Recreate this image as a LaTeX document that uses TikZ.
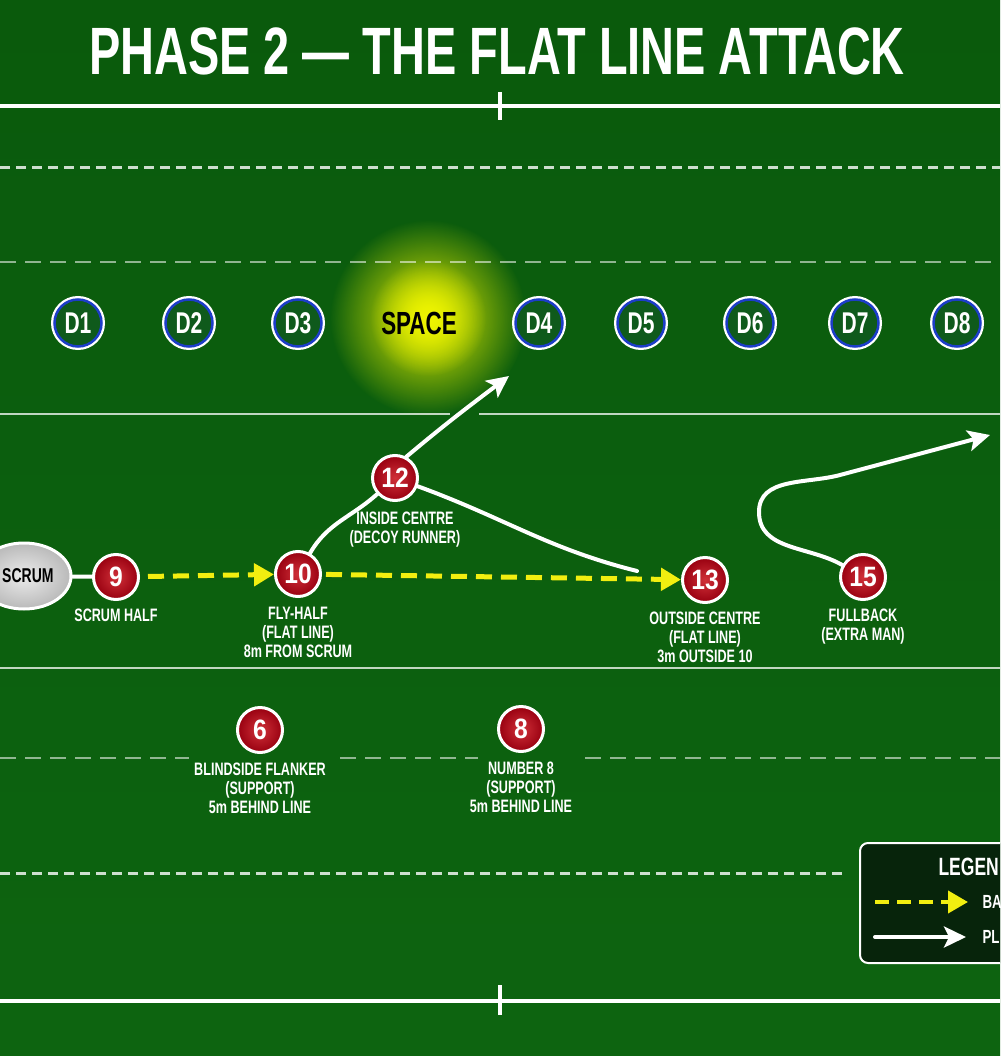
\documentclass[tikz,border=0pt]{standalone}
\usepackage{fontspec}
\newfontfamily\condfont[FakeStretch=0.7]{Liberation Sans}
\newfontfamily\numfont[FakeStretch=0.88]{Liberation Sans}
\usepackage{tikz}
\usetikzlibrary{positioning,arrows.meta,fadings,shapes.geometric}

\definecolor{pitchtop}{HTML}{0A5A0C}
\definecolor{pitchmid}{HTML}{168418}
\definecolor{pitchbot}{HTML}{0D6410}
\definecolor{jersey}{HTML}{C80C16}
\definecolor{jerseydark}{HTML}{980010}
\definecolor{defring}{HTML}{1C3DC8}
\definecolor{deffill}{HTML}{0F5A1C}
\definecolor{passyellow}{HTML}{F2EE10}
\definecolor{glowyellow}{HTML}{EEF400}
\definecolor{legendbg}{HTML}{07240B}

\tikzfading[name=glowfade, inner color=transparent!0, outer color=transparent!100]

\begin{document}
\begin{tikzpicture}[x=1pt,y=1pt]

	\tikzstyle{player} = [circle, draw=white, line width=3pt, inner color=jersey!85!white,
		outer color=jerseydark, minimum size=45pt, inner sep=0pt, text=white,
		font=\numfont\bfseries\fontsize{28}{28}\selectfont]
	\tikzstyle{defender} = [circle, preaction={draw=white, line width=7pt}, draw=defring,
		line width=2.5pt, fill=deffill, minimum size=47pt, inner sep=0pt, text=white,
		font=\condfont\bfseries\fontsize{30}{30}\selectfont]
	\tikzstyle{lbl} = [text=white, align=center, inner sep=0pt,
		font=\condfont\bfseries\fontsize{18}{19}\selectfont]
	\tikzstyle{run} = [draw=white, line width=4pt, line cap=round]
	\tikzstyle{runarrow} = [run, -{Stealth[length=22pt,width=21pt,inset=5pt]}]
	\tikzstyle{pass} = [draw=passyellow, line width=5pt, dash pattern=on 16pt off 9pt,
		-{Triangle[length=20pt,width=22pt]}]
	\tikzstyle{touchline} = [white, line width=4pt]
	\tikzstyle{fieldline} = [white, opacity=0.75, line width=2.5pt]
	\tikzstyle{dashline} = [white, opacity=0.8, line width=3pt, dash pattern=on 10pt off 6pt]
	\tikzstyle{faintdash} = [white, opacity=0.55, line width=2pt, dash pattern=on 16pt off 9pt]

    \useasboundingbox (0,0) rectangle (1000,-1056);
    \clip (0,0) rectangle (1000,-1056);

    % Pitch
    \shade[top color=pitchtop, middle color=pitchmid, bottom color=pitchbot] (0,0) rectangle (1000,-1056);
    \fill[glowyellow, path fading=glowfade] (428,-318) circle (98);
    \fill[glowyellow, path fading=glowfade] (428,-318) circle (58);

    \draw[touchline] (0,-106) -- (1000,-106);
    \draw[touchline] (500,-92) -- (500,-120);
    \draw[dashline] (0,-168) -- (1000,-168);
    \draw[faintdash] (0,-262) -- (1000,-262);
    \draw[fieldline] (0,-414) -- (450,-414);
    \draw[fieldline] (479,-414) -- (1000,-414);
    \draw[fieldline] (0,-668) -- (1000,-668);
    \draw[faintdash] (0,-758) -- (189,-758);
    \draw[faintdash] (340,-758) -- (478,-758);
    \draw[faintdash] (585,-758) -- (1000,-758);
    \draw[dashline] (0,-873) -- (845,-873);
    \draw[touchline] (0,-1001) -- (1000,-1001);
    \draw[touchline] (500,-985) -- (500,-1015);

    \node[text=white, font=\condfont\bfseries\fontsize{67}{70}\selectfont] (title) at (497,-51) {PHASE 2 — THE FLAT LINE ATTACK};

    % Defensive line
    \node [defender] at (78,-323) (d1) {D1};
    \node [defender] at (189,-323) (d2) {D2};
    \node [defender] at (298,-323) (d3) {D3};
    \node [font=\condfont\bfseries\fontsize{32}{32}\selectfont] at (419,-323) (space) {SPACE};
    \node [defender] at (539,-323) (d4) {D4};
    \node [defender] at (641,-323) (d5) {D5};
    \node [defender] at (750,-323) (d6) {D6};
    \node [defender] at (855,-323) (d7) {D7};
    \node [defender] at (957,-323) (d8) {D8};

    % Attack
    \node [ellipse, draw=white, line width=3pt, inner color=gray!15, outer color=gray!55,
        minimum width=94pt, minimum height=66pt, inner sep=0pt] at (24,-576) (scrum) {};
    \node [font=\condfont\bfseries\fontsize{20}{20}\selectfont, anchor=west, inner sep=0pt] at (2,-576) (scrumtxt) {SCRUM};
    \node [player] at (116,-577) (p9) {9};
    \node [lbl, below=8pt of p9] (p9lbl) {SCRUM HALF};
    \node [player] at (298,-574) (p10) {10};
    \node [lbl, below=9pt of p10] (p10lbl) {FLY-HALF\\(FLAT LINE)\\8m FROM SCRUM};
    \node [player] at (395,-478) (p12) {12};
    \node [lbl, below=10pt of p12, xshift=10pt] (p12lbl) {INSIDE CENTRE\\(DECOY RUNNER)};
    \node [player] at (705,-580) (p13) {13};
    \node [lbl, below=8pt of p13] (p13lbl) {OUTSIDE CENTRE\\(FLAT LINE)\\3m OUTSIDE 10};
    \node [player] at (863,-577) (p15) {15};
    \node [lbl, below=8pt of p15] (p15lbl) {FULLBACK\\(EXTRA MAN)};
    \node [player] at (260,-730) (p6) {6};
    \node [lbl, below=9pt of p6] (p6lbl) {BLINDSIDE FLANKER\\(SUPPORT)\\5m BEHIND LINE};
    \node [player] at (521,-729) (p8) {8};
    \node [lbl, below=9pt of p8] (p8lbl) {NUMBER 8\\(SUPPORT)\\5m BEHIND LINE};

    \coordinate (tip12) at (509,-376);
    \coordinate (cut13) at (637,-571);
    \coordinate (loop15) at (759,-512);
    \coordinate (bend15) at (840,-475);
    \coordinate (tip15) at (990,-435);

    % Draw edges
    \draw [run] (scrum) -- (p9);
    \draw [pass, shorten <=8pt] (p9) -- (p10);
    \draw [pass, shorten <=4pt] (p10) -- (p13);
    \draw [run] (p10) to[out=60, in=222] (p12);
    \draw [runarrow] (p12.62) to[out=40, in=217] (tip12);
    \draw [run] (p12) to[out=-20, in=166] (cut13);
    \draw [runarrow] (p15.150) to[out=150, in=-90] (loop15) to[out=90, in=195] (bend15) -- (tip15);

    % Legend
    \draw [fill=legendbg, draw=white, line width=2pt, rounded corners=8pt] (860,-843) rectangle (1015,-963);
    \node [anchor=west, text=white, font=\condfont\bfseries\fontsize{25}{25}\selectfont] at (935,-867) (legtitle) {LEGEN};
    \coordinate (lp0) at (875,-902);
    \coordinate (lp1) at (968,-902);
    \coordinate (lr0) at (875,-937);
    \coordinate (lr1) at (966,-937);
    \draw [pass, line width=4pt, dash pattern=on 14pt off 8pt] (lp0) -- (lp1);
    \draw [runarrow] (lr0) -- (lr1);
    \node [anchor=west, text=white, font=\condfont\bfseries\fontsize{19}{19}\selectfont] at (979,-902) (legpass) {BA};
    \node [anchor=west, text=white, font=\condfont\bfseries\fontsize{19}{19}\selectfont] at (979,-937) (legrun) {PL};
\end{tikzpicture}
\end{document}
